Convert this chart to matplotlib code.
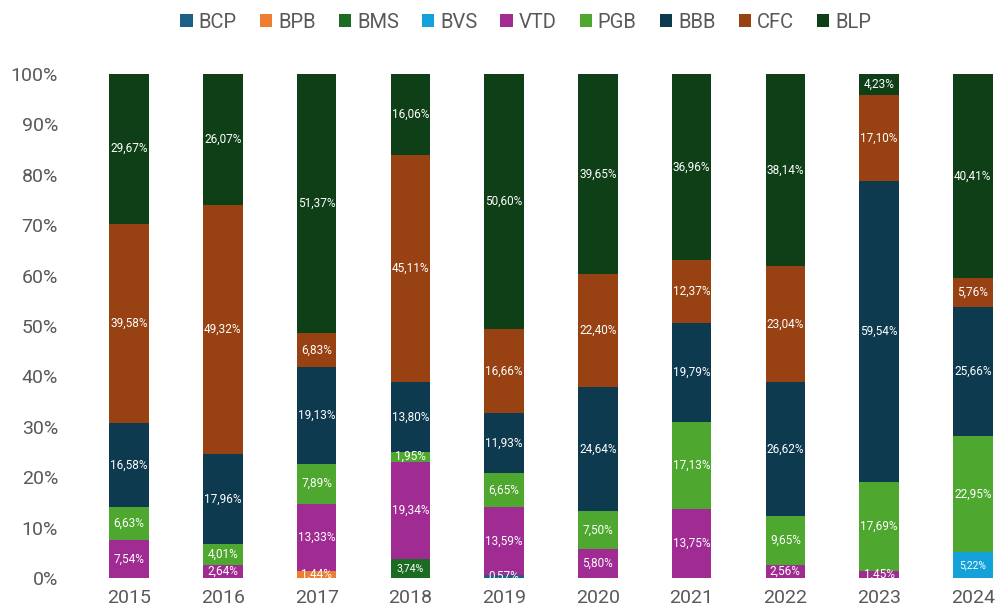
import matplotlib.pyplot as plt
import numpy as np

years = ['2015', '2016', '2017', '2018', '2019', '2020', '2021', '2022', '2023', '2024']
series = ['BCP', 'BPB', 'BMS', 'BVS', 'VTD', 'PGB', 'BBB', 'CFC', 'BLP']

bcp = [0, 0, 0, 0, 0.57, 0, 0, 0, 0, 0]
bpb = [0, 0, 1.44, 0, 0, 0, 0, 0, 0, 0]
bms = [0, 0, 0, 3.74, 0, 0, 0, 0, 0, 0]
bvs = [0, 0, 0, 0, 0, 0, 0, 0, 0, 5.22]
vtd = [7.54, 2.64, 13.33, 19.34, 13.59, 5.80, 13.75, 2.56, 1.45, 0]
pgb = [6.63, 4.01, 7.89, 1.95, 6.65, 7.50, 17.13, 9.65, 17.69, 22.95]
bbb = [16.58, 17.96, 19.13, 13.80, 11.93, 24.64, 19.79, 26.62, 59.54, 25.66]
cfc = [39.58, 49.32, 6.83, 45.11, 16.66, 22.40, 12.37, 23.04, 17.10, 5.76]
blp = [29.67, 26.07, 51.37, 16.06, 50.60, 39.65, 36.96, 38.14, 4.23, 40.41]

colors = ['#1d5f86', '#ed7d31', '#1c6b22', '#14a0d8', '#a02b93',
          '#4ea72e', '#0e3a50', '#984112', '#0f3f17']

plt.rcParams['font.family'] = ['Roboto', 'DejaVu Sans']

fig = plt.figure(figsize=(10, 6.15), dpi=100)
ax = fig.add_axes([0.072, 0.0602, 0.928, 0.8195])

x = np.arange(len(years))
bottom = np.zeros(len(years))
for name, vals, col in zip(series, [bcp, bpb, bms, bvs, vtd, pgb, bbb, cfc, blp], colors):
    vals = np.array(vals)
    ax.bar(x, vals, 0.42, bottom=bottom, color=col, label=name)
    for xi, v, b in zip(x, vals, bottom):
        if v <= 0:
            continue
        fs = 7.5 if name in ('BMS', 'BVS') else 8.5
        ax.text(xi, b + v / 2, f'{v:.2f}%'.replace('.', ','), ha='center', va='center',
                color='white', fontsize=fs, clip_on=True)
    bottom += vals

ax.set_xlim(-0.61, 9.29)
ax.set_ylim(0, 100)
ax.set_yticks(np.arange(0, 101, 10))
ax.set_yticklabels([f'{t}%' for t in range(0, 101, 10)])
ax.set_xticks(x)
ax.set_xticklabels(years)
ax.tick_params(length=0, labelsize=14, colors='#595959', pad=8)
ax.tick_params(axis='y', pad=10)
for s in ax.spines.values():
    s.set_visible(False)

ax.legend(loc='center', bbox_to_anchor=(0.489, 1.103), ncol=9, frameon=False,
          fontsize=14.5, handlelength=0.6, handleheight=0.6, handletextpad=0.3,
          columnspacing=1.15, labelcolor='#595959',
          bbox_transform=ax.transAxes)

fig.savefig('out.png', dpi=100)
